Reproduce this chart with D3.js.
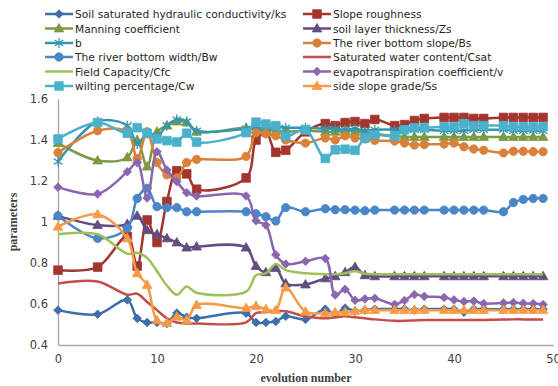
<!DOCTYPE html>
<html>
<head>
<meta charset="utf-8">
<script src="https://cdn.jsdelivr.net/npm/d3@7"></script>
<style>
  html, body { margin: 0; padding: 0; background: #fff; }
  svg { display: block; }
</style>
</head>
<body>
<svg id="chart" width="558" height="386"></svg>
<script>
// Evolution numbers at which the parameters were recorded
const evolution = [0,4,7,8,9,10,11,12,13,14,19,20,21,22,23,25,27,28,29,30,31,32,34,35,36,37,39,40,41,42,43,45,46,47,48,49];

const ks    = [0.57,0.55,0.62,0.53,0.51,0.51,0.505,0.556,0.535,0.53,0.555,0.51,0.51,0.515,0.54,0.525,0.575,0.55,0.58,0.565,0.57,0.575,0.575,0.575,0.57,0.575,0.575,0.575,0.56,0.575,0.575,0.575,0.575,0.575,0.575,0.575];
const slope = [0.765,0.78,0.93,0.785,1.01,0.90,1.10,1.25,1.235,1.16,1.215,1.40,1.44,1.34,1.35,1.44,1.48,1.47,1.485,1.49,1.48,1.50,1.47,1.475,1.495,1.505,1.51,1.51,1.51,1.505,1.505,1.51,1.51,1.51,1.51,1.51];
const manning = [1.385,1.30,1.315,1.40,1.27,1.44,1.47,1.49,1.485,1.44,1.46,1.45,1.45,1.445,1.44,1.445,1.44,1.44,1.445,1.44,1.435,1.43,1.42,1.415,1.415,1.415,1.415,1.415,1.415,1.415,1.415,1.415,1.415,1.415,1.415,1.415];
const zs    = [1.03,0.985,0.99,1.03,0.96,0.94,0.92,0.90,0.875,0.88,0.875,0.785,0.755,0.775,0.70,0.695,0.725,0.735,0.755,0.78,0.74,0.735,0.735,0.735,0.735,0.735,0.735,0.735,0.735,0.735,0.735,0.735,0.735,0.735,0.735,0.735];
const bParam = [1.295,1.49,1.47,1.38,1.43,1.42,1.47,1.50,1.49,1.445,1.455,1.46,1.455,1.465,1.46,1.46,1.455,1.455,1.45,1.455,1.445,1.45,1.45,1.445,1.45,1.45,1.445,1.445,1.445,1.45,1.45,1.45,1.445,1.445,1.445,1.445];
const bs    = [1.338,1.445,1.44,1.31,1.44,1.29,1.23,1.215,1.29,1.305,1.32,1.435,1.43,1.42,1.40,1.385,1.41,1.40,1.42,1.41,1.405,1.398,1.395,1.385,1.375,1.378,1.38,1.385,1.367,1.356,1.35,1.337,1.345,1.345,1.343,1.343];
const bw    = [1.03,0.92,0.97,1.115,1.165,1.075,1.07,1.07,1.05,1.05,1.05,1.04,1.026,1.005,1.07,1.05,1.065,1.06,1.06,1.058,1.055,1.058,1.058,1.058,1.058,1.058,1.058,1.058,1.058,1.058,1.058,1.05,1.095,1.11,1.115,1.115];
const csat  = [0.70,0.71,0.645,0.65,0.61,0.57,0.53,0.51,0.505,0.505,0.51,0.555,0.56,0.565,0.565,0.54,0.53,0.535,0.54,0.535,0.53,0.525,0.518,0.518,0.52,0.522,0.522,0.522,0.522,0.522,0.522,0.524,0.525,0.525,0.525,0.525];
const cfc   = [0.94,0.94,0.845,0.85,0.825,0.76,0.69,0.645,0.685,0.655,0.66,0.74,0.75,0.795,0.765,0.75,0.745,0.745,0.75,0.76,0.748,0.745,0.745,0.745,0.745,0.745,0.745,0.745,0.745,0.745,0.745,0.745,0.745,0.745,0.745,0.745];
const vCoef = [1.17,1.137,1.245,1.29,1.117,1.343,1.254,1.197,1.143,1.127,1.127,1.006,0.985,0.84,0.795,0.808,0.822,0.644,0.672,0.618,0.625,0.628,0.598,0.617,0.646,0.637,0.632,0.62,0.612,0.614,0.602,0.605,0.607,0.603,0.602,0.597];
const cw    = [1.405,1.485,1.433,1.46,1.433,1.405,1.397,1.39,1.433,1.39,1.436,1.487,1.478,1.47,1.418,1.45,1.31,1.352,1.355,1.35,1.41,1.425,1.42,1.45,1.46,1.46,1.465,1.465,1.48,1.47,1.47,1.47,1.465,1.465,1.465,1.465];
const ss    = [0.977,1.037,0.92,0.75,0.693,0.52,0.507,0.538,0.522,0.595,0.58,0.59,0.575,0.57,0.68,0.563,0.555,0.56,0.56,0.565,0.57,0.57,0.57,0.57,0.57,0.57,0.57,0.57,0.57,0.57,0.57,0.57,0.57,0.57,0.57,0.57];

const seriesNames = [
  "Soil saturated hydraulic conductivity/ks", "Slope roughness",
  "Manning coefficient", "soil layer thickness/Zs",
  "b", "The river bottom slope/Bs",
  "The river bottom width/Bw", "Saturated water content/Csat",
  "Field Capacity/Cfc", "evapotranspiration coefficient/v",
  "wilting percentage/Cw", "side slope grade/Ss"
];
const seriesValues = [ks, slope, manning, zs, bParam, bs, bw, csat, cfc, vCoef, cw, ss];
const seriesColors = ["#3D6EA8", "#A3352F", "#7D9A42", "#624C80", "#3395AE", "#D9813A",
                      "#4A85C6", "#C24E4A", "#9DC15A", "#8A66AE", "#4BB0CC", "#F79A46"];
const seriesMarkers = ["diamond", "square", "triangle", "triangle", "asterisk", "circle",
                       "circle", "none", "none", "diamond", "square", "triangle"];

const yTicks = [0.4, 0.6, 0.8, 1, 1.2, 1.4, 1.6];
const xTicks = [0, 10, 20, 30, 40, 50];

const svg = d3.select("#chart");
const x = d3.scaleLinear().domain([0, 50]).range([58, 553]);
const y = d3.scaleLinear().domain([0.4, 1.6]).range([345, 99]);

// Marker shapes
const markerPath = {
  diamond: r => `M0,${-r}L${r},0L0,${r}L${-r},0Z`,
  square: r => `M${-r},${-r}H${r}V${r}H${-r}Z`,
  triangle: r => `M0,${-r * 1.1}L${r * 1.05},${r * 0.75}L${-r * 1.05},${r * 0.75}Z`,
  circle: r => `M${r},0A${r},${r} 0 1,1 ${-r},0A${r},${r} 0 1,1 ${r},0Z`,
  asterisk: r => `M0,${-r}V${r}M${-r * 0.87},${-r * 0.6}L${r * 0.87},${r * 0.6}M${-r * 0.87},${r * 0.6}L${r * 0.87},${-r * 0.6}`
};
const markerRadius = { diamond: 4.3, square: 4.3, triangle: 4.6, circle: 4.2, asterisk: 5 };

function drawMarker(g, type, color, cx, cy) {
  if (type === "none") return;
  const p = g.append("path")
    .attr("d", markerPath[type](markerRadius[type]))
    .attr("transform", `translate(${cx},${cy})`);
  if (type === "asterisk") {
    p.attr("fill", "none").attr("stroke", color).attr("stroke-width", 1.3);
  } else {
    p.attr("fill", color).attr("stroke", color).attr("stroke-width", 0.8);
  }
}

// Axes
const yAxis = d3.axisLeft(y).tickValues(yTicks).tickSize(0).tickPadding(10)
  .tickFormat(d => d3.format("")(d));
svg.append("g").attr("transform", "translate(58,0)").call(yAxis)
  .call(g => g.select(".domain").attr("stroke", "#a6a6a6").attr("stroke-width", 1.3))
  .call(g => g.selectAll("text").attr("font-family", "DejaVu Sans, Verdana, sans-serif")
    .attr("font-size", 11.5).attr("fill", "#404040"));

const xAxis = d3.axisBottom(x).tickValues(xTicks).tickSize(0).tickPadding(10);
svg.append("g").attr("transform", "translate(0,345)").call(xAxis)
  .call(g => g.select(".domain").attr("stroke", "#a6a6a6").attr("stroke-width", 1.3))
  .call(g => g.selectAll("text").attr("font-family", "DejaVu Sans, Verdana, sans-serif")
    .attr("font-size", 11.5).attr("fill", "#404040"));

// Axis titles
svg.append("text").attr("x", 306).attr("y", 382).attr("text-anchor", "middle")
  .attr("font-family", "Liberation Serif, Times New Roman, serif").attr("font-weight", "bold")
  .attr("font-size", 12).attr("fill", "#404040").text("evolution number");
svg.append("text").attr("transform", "translate(17,222) rotate(-90)").attr("text-anchor", "middle")
  .attr("font-family", "Liberation Serif, Times New Roman, serif").attr("font-weight", "bold")
  .attr("font-size", 12).attr("fill", "#404040").text("parameters");

// Series lines and markers
const line = d3.line()
  .x((d, i) => x(evolution[i]))
  .y(d => y(d))
  .curve(d3.curveCatmullRom.alpha(0.5));

const plot = svg.append("g");
seriesValues.forEach((vals, s) => {
  const g = plot.append("g");
  g.append("path").datum(vals).attr("d", line)
    .attr("fill", "none").attr("stroke", seriesColors[s]).attr("stroke-width", 2.5)
    .attr("stroke-linejoin", "round");
  vals.forEach((v, i) => drawMarker(g, seriesMarkers[s], seriesColors[s], x(evolution[i]), y(v)));
});

// Legend, two columns
const legendRows = [14, 28.5, 43, 57, 71.5, 86];
const legendCols = [45, 303];
const legend = svg.append("g");
seriesNames.forEach((name, s) => {
  const lx = legendCols[s % 2];
  const ly = legendRows[Math.floor(s / 2)];
  const g = legend.append("g");
  g.append("line").attr("x1", lx).attr("x2", lx + 28).attr("y1", ly).attr("y2", ly)
    .attr("stroke", seriesColors[s]).attr("stroke-width", 2.5);
  drawMarker(g, seriesMarkers[s], seriesColors[s], lx + 14, ly);
  g.append("text").attr("x", lx + 30).attr("y", ly + 4)
    .attr("font-family", "DejaVu Sans, Verdana, sans-serif").attr("font-size", 10.7)
    .attr("fill", "#262626").text(name);
});
</script>
</body>
</html>
